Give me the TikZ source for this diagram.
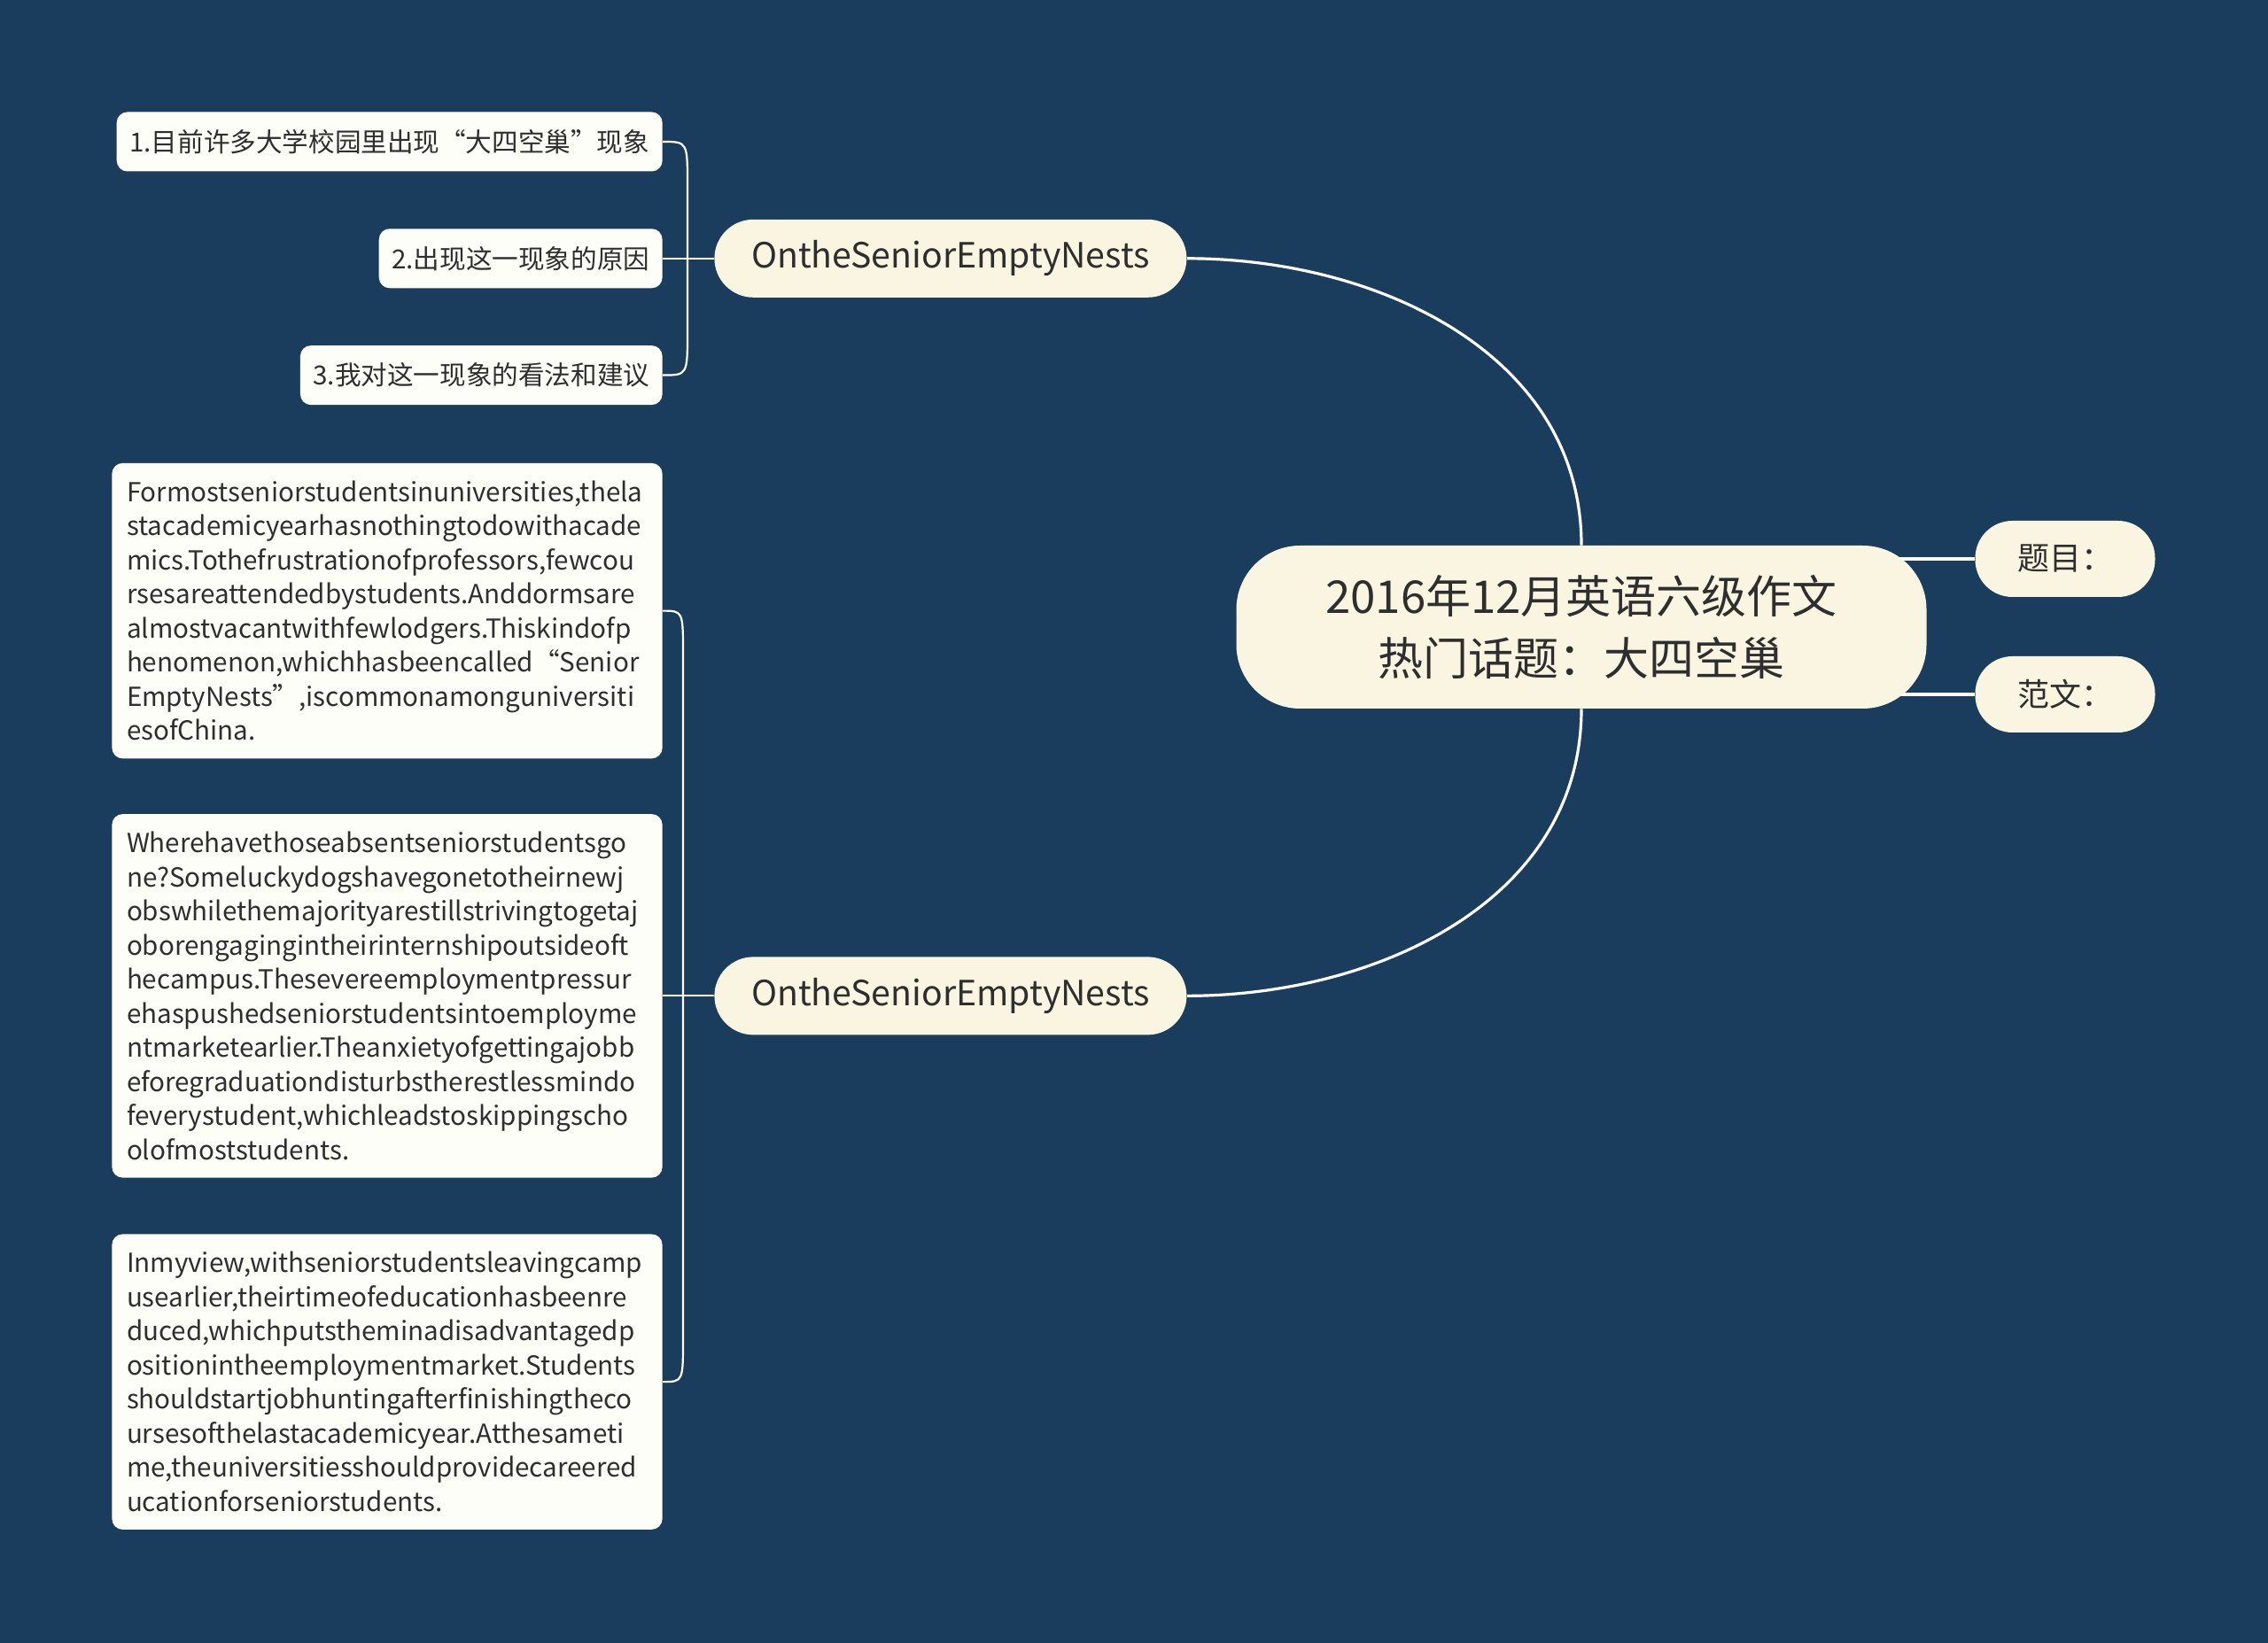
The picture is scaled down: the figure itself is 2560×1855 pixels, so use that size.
\documentclass[tikz,border=0pt]{standalone}
\usepackage{fontspec}
\setmainfont{Noto Sans CJK SC}
\usetikzlibrary{positioning, backgrounds}

\definecolor{navy}{HTML}{1B3D5D}
\definecolor{cream}{HTML}{FAF5E1}
\definecolor{paper}{HTML}{FEFEF8}
\definecolor{ink}{HTML}{2E2E2E}

\begin{document}
\begin{tikzpicture}[
		x=0.5pt, y=-0.5pt,
		hub/.style = {fill=cream, text=ink, rounded corners=36pt, minimum width=389.5pt, minimum height=92pt, align=center, font=\fontsize{25.5}{35}\selectfont},
		branch/.style = {fill=cream, text=ink, rounded corners=22pt, minimum width=266.5pt, minimum height=44pt, font=\fontsize{19.6}{24}\selectfont},
		topic/.style = {fill=cream, text=ink, rounded corners=21pt, minimum width=101.5pt, minimum height=43pt, font=\fontsize{18}{22}\selectfont},
		leaf/.style = {fill=paper, text=ink, rounded corners=6pt, inner xsep=7.2pt, minimum height=33.5pt, font=\fontsize{14.8}{18}\selectfont},
		para/.style = {fill=paper, text=ink, rounded corners=6pt, text width=294pt, align=left, inner xsep=8.3pt, inner ysep=10pt, font=\fontsize{14.8}{19.25}\selectfont},
		twig/.style = {draw=white, line width=1.1pt},
		limb/.style = {draw=white, line width=1.6pt}
	]
\useasboundingbox (0,0) rectangle (2560,1855);

% centre and the two topics on the right
\node[hub] (root) at (1785,708) {2016年12月英语六级作文\\热门话题：大四空巢};
\node[topic] (t1) at (2331,631) {题目：};
\node[topic] (t2) at (2331,784) {范文：};

% left column
\node[leaf, anchor=east] (q1) at (748,160) {1.目前许多大学校园里出现“大四空巢”现象};
\node[leaf, below=32pt of q1.south east, anchor=north east] (q2) {2.出现这一现象的原因};
\node[leaf, below=32pt of q2.south east, anchor=north east] (q3) {3.我对这一现象的看法和建议};
\node[para, below=32.5pt of q3.south east, anchor=north east] (p1) {Formostseniorstudentsinuniversities,thela\\stacademicyearhasnothingtodowithacade\\mics.Tothefrustrationofprofessors,fewcou\\rsesareattendedbystudents.Anddormsare\\almostvacantwithfewlodgers.Thiskindofp\\henomenon,whichhasbeencalled“Senior\\EmptyNests”,iscommonamonguniversiti\\esofChina.};
\node[para, below=31pt of p1.south east, anchor=north east] (p2) {Wherehavethoseabsentseniorstudentsgo\\ne?Someluckydogshavegonetotheirnewj\\obswhilethemajorityarestillstrivingtogetaj\\oborengagingintheirinternshipoutsideoft\\hecampus.Thesevereemploymentpressur\\ehaspushedseniorstudentsintoemployme\\ntmarketearlier.Theanxietyofgettingajobb\\eforegraduationdisturbstherestlessmindo\\feverystudent,whichleadstoskippingscho\\olofmoststudents.};
\node[para, below=31.5pt of p2.south east, anchor=north east] (p3) {Inmyview,withseniorstudentsleavingcamp\\usearlier,theirtimeofeducationhasbeenre\\duced,whichputstheminadisadvantagedp\\ositionintheemploymentmarket.Students\\shouldstartjobhuntingafterfinishingtheco\\ursesofthelastacademicyear.Atthesameti\\me,theuniversitiesshouldprovidecareered\\ucationforseniorstudents.};

% the two branches
\node[branch, right=29pt of q2] (b1) {OntheSeniorEmptyNests};
\node[branch, right=29pt of p2] (b2) {OntheSeniorEmptyNests};
\coordinate[right=14pt of q2] (j1);
\coordinate[right=11.5pt of p2] (j2);

\begin{scope}[on background layer]
\fill[navy] (0,0) rectangle (2560,1855);
\draw[limb] (root.north) to [out=90, in=0] (b1.east);
\draw[limb] (root.south) to [out=-90, in=0] (b2.east);
\draw[limb] (root.center |- t1) -- (t1);
\draw[limb] (root.center |- t2) -- (t2);
\draw[twig] (q2) -- (b1);
\draw[twig] (p2) -- (b2);
\draw[twig] (q1.east) .. controls (q1.east -| j1) .. ([yshift=-25pt]q1.east -| j1) -- ([yshift=25pt]q3.east -| j1) .. controls (q3.east -| j1) .. (q3.east);
\draw[twig] (p1.east) .. controls (p1.east -| j2) .. ([yshift=-25pt]p1.east -| j2) -- ([yshift=25pt]p3.east -| j2) .. controls (p3.east -| j2) .. (p3.east);
\end{scope}
\end{tikzpicture}
\end{document}
